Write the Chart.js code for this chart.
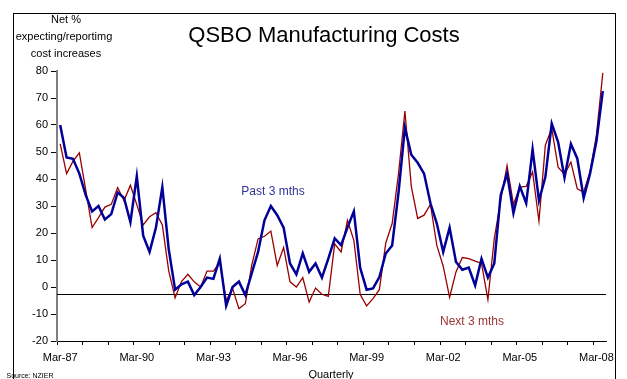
<!DOCTYPE html>
<html>
<head>
<meta charset="utf-8">
<script src="https://cdn.jsdelivr.net/npm/chart.js@4"></script>
<style>
  body { margin: 0; background: #fff; font-family: "Liberation Sans", Arial, sans-serif; }
  #box { position: relative; width: 627px; height: 379px; overflow: hidden; }
  #frame { position: absolute; left: 13px; top: 13px; width: 601px; height: 400px; border: 1px solid #000; }
  #c { position: absolute; left: 0; top: 0; }
  .t { position: absolute; white-space: nowrap; transform: translate(-50%, -50%); color: #000; }
</style>
</head>
<body>
<div id="box">
  <div id="frame"></div>
  <canvas id="c" width="627" height="379"></canvas>
  <div class="t" style="left:324px;top:35px;font-size:22px">QSBO Manufacturing Costs</div>
  <div class="t" style="left:66px;top:19px;font-size:11px">Net %</div>
  <div class="t" style="left:64px;top:36px;font-size:11px">expecting/reportimg</div>
  <div class="t" style="left:66px;top:53px;font-size:11px">cost increases</div>
  <div class="t" style="left:273px;top:191px;font-size:12px;color:#333399">Past 3 mths</div>
  <div class="t" style="left:472px;top:321px;font-size:12px;color:#993333">Next 3 mths</div>
  <div class="t" style="left:331px;top:374px;font-size:11px">Quarterly</div>
  <div class="t" style="left:30px;top:375px;font-size:7px">Source: NZIER</div>
</div>
<script>
// quarterly, Mar-87 .. Jun-08
const months = ["Mar", "Jun", "Sep", "Dec"];
const quarters = [];
for (let y = 1987; y <= 2008; y++) {
  for (const m of months) quarters.push(m + "-" + String(y).slice(2));
}
quarters.length = 86;

const past3 = [
  60, 48, 47.5, 42, 34, 28, 30, 25, 27, 35, 33, 24, 41, 19, 13, 22,
  37, 14, -1, 1, 2, -3, 0, 3.5, 3, 10.5, -7, 0, 2, -3, 5, 13,
  24.7, 30, 26.6, 22, 8.7, 4.7, 12.5, 5.6, 8.7, 3.5, 10.5, 18, 15.5, 22,
  28, 7, -1, -0.5, 3.7, 12.4, 15.4, 35, 59, 49, 46, 42, 31, 23.5,
  13, 22, 9.3, 6.4, 7.2, 0.6, 10.5, 3.5, 8.7, 34, 42, 27.4, 37.3, 31,
  51, 32, 40.7, 60.5, 53.7, 40.5, 53, 47.6, 33, 42, 54, 72.6
];

const next3 = [
  53, 42, 46.5, 49.7, 36, 22, 25.7, 29.6, 30.6, 36.8, 32, 37.7, 30.5, 23, 26, 27.5,
  23, 6, -4, 2, 4.7, 1.9, 0, 5.9, 5.9, 9, -5, -0.5, -8, -6.2, 8, 17.8,
  18.8, 20.7, 8, 14.6, 1.9, 0, 3.5, -5.6, -0.4, -2.7, -3.5, 16, 13, 24.7,
  17.3, -2.8, -7, -4.3, -1, 16.3, 23.5, 42, 65.2, 37.3, 25.4, 26.6, 30.6, 15.4,
  7.7, -3.8, 5.6, 10.9, 10.5, 9.6, 8.7, -4.7, 17.9, 32, 45, 30.6, 37, 37.3,
  42.6, 24.4, 52.5, 58.7, 44.4, 41.7, 46.3, 36.4, 35.2, 42.6, 56.2, 79.3
];

const yTicks = [80, 70, 60, 50, 40, 30, 20, 10, 0, -10, -20];
const refLine = -2.7;

const tickFont = { family: "Liberation Sans", size: 11 };

const refLinePlugin = {
  id: "refLine",
  beforeDatasetsDraw(chart) {
    const { ctx, chartArea, scales } = chart;
    const y = Math.round(scales.y.getPixelForValue(refLine)) + 0.5;
    ctx.save();
    ctx.strokeStyle = "#000";
    ctx.lineWidth = 1;
    ctx.beginPath();
    ctx.moveTo(chartArea.left, y);
    ctx.lineTo(chartArea.right, y);
    ctx.stroke();
    ctx.restore();
  }
};

new Chart(document.getElementById("c"), {
  type: "line",
  data: {
    labels: quarters,
    datasets: [
      {
        label: "Past 3 mths",
        data: past3,
        borderColor: "#000099",
        borderWidth: 2.5,
        pointRadius: 0,
        tension: 0
      },
      {
        label: "Next 3 mths",
        data: next3,
        borderColor: "#990000",
        borderWidth: 1.3,
        pointRadius: 0,
        tension: 0
      }
    ]
  },
  options: {
    responsive: false,
    animation: false,
    devicePixelRatio: 1,
    layout: { padding: { top: 71, right: 21, left: 0, bottom: 0 } },
    plugins: {
      legend: { display: false },
      tooltip: { enabled: false }
    },
    scales: {
      x: {
        type: "category",
        offset: true,
        afterFit: s => { s.height = 38; },
        border: { color: "#000", width: 1 },
        grid: {
          offset: true,
          drawOnChartArea: false,
          drawTicks: true,
          tickLength: 4,
          tickColor: c => (c.index % 4 === 0 ? "#000" : "rgba(0,0,0,0)")
        },
        ticks: {
          autoSkip: false,
          maxRotation: 0,
          padding: 6,
          color: "#000",
          font: tickFont,
          callback: (v, i) => (i % 12 === 0 ? quarters[i] : "")
        }
      },
      y: {
        min: -20,
        max: 80,
        afterFit: s => { s.width = 57; },
        afterBuildTicks: s => { s.ticks = yTicks.map(v => ({ value: v })); },
        border: { color: "#808080", width: 2 },
        grid: { drawOnChartArea: false, tickLength: 6, tickColor: "#000" },
        ticks: { padding: 3, color: "#000", font: tickFont }
      }
    }
  },
  plugins: [refLinePlugin]
});
</script>
</body>
</html>
